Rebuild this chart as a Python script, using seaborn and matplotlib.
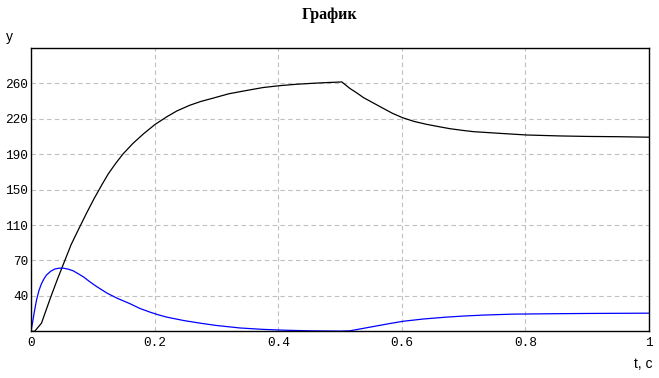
import matplotlib
matplotlib.use("Agg")
import matplotlib.pyplot as plt
import seaborn as sns
import pandas as pd
from matplotlib.ticker import FixedLocator, FixedFormatter

# ---- data ----
t_black = [0.0, 0.006, 0.017, 0.032, 0.043, 0.054, 0.065, 0.077, 0.090, 0.102,
           0.115, 0.125, 0.137, 0.149, 0.165, 0.182, 0.201, 0.220, 0.236, 0.257,
           0.275, 0.295, 0.320, 0.349, 0.375, 0.402, 0.430, 0.456, 0.480, 0.503,
           0.516, 0.527, 0.538, 0.555, 0.570, 0.585, 0.601, 0.620, 0.640, 0.660,
           0.678, 0.700, 0.716, 0.759, 0.802, 0.856, 0.900, 0.950, 1.000]
y_black = [0.0, 0.0, 8.6, 36.0, 55.0, 73.0, 91.0, 107.0, 124.0, 139.0,
           154.0, 165.0, 176.0, 186.0, 197.0, 207.0, 217.0, 225.0, 231.0, 237.0,
           241.0, 244.5, 249.0, 252.5, 255.5, 257.5, 259.0, 260.0, 260.8, 261.4,
           254.6, 250.0, 245.0, 239.0, 233.7, 228.5, 224.0, 220.0, 217.0, 214.5,
           212.4, 210.5, 209.3, 207.5, 205.8, 204.8, 204.3, 204.0, 203.5]

t_blue = [0.0, 0.003, 0.005, 0.009, 0.013, 0.017, 0.021, 0.025, 0.032, 0.039,
          0.046, 0.052, 0.060, 0.068, 0.076, 0.085, 0.095, 0.106, 0.123, 0.140,
          0.160, 0.176, 0.193, 0.206, 0.220, 0.247, 0.273, 0.300, 0.338, 0.376,
          0.408, 0.451, 0.500, 0.516, 0.532, 0.554, 0.581, 0.602, 0.635, 0.673,
          0.700, 0.732, 0.780, 0.840, 0.899, 1.000]
y_blue = [0.0, 11.0, 19.0, 33.0, 43.0, 50.0, 55.0, 59.0, 63.0, 65.4,
          66.2, 66.2, 65.2, 63.5, 60.5, 57.0, 52.0, 47.0, 40.0, 34.5,
          29.0, 24.0, 20.0, 17.3, 14.8, 11.3, 8.6, 6.1, 3.5, 2.0,
          1.2, 0.5, 0.2, 0.5, 2.4, 5.0, 8.2, 10.5, 12.9, 14.9,
          16.0, 17.0, 18.0, 18.4, 18.7, 19.0]

x_ticks = [0, 0.2, 0.4, 0.6, 0.8, 1.0]
x_tick_labels = ["0", "0.2", "0.4", "0.6", "0.8", "1"]
y_max = 297.0
y_tick_labels = ["40", "70", "110", "150", "190", "220", "260"]

title = "График"
x_label = "t, c"
y_label = "y"

# ---- styling ----
sns.set_theme(style="white")
plt.rcParams["font.family"] = ["Liberation Mono", "DejaVu Sans Mono"]
plt.rcParams["text.color"] = "black"

fig = plt.figure(figsize=(6.59, 3.78), dpi=100)
ax = fig.add_axes([31 / 659, (378 - 331.3) / 378, (649 - 31) / 659, (331.3 - 48) / 378])

df_black = pd.DataFrame({"t": t_black, "y": y_black})
df_blue = pd.DataFrame({"t": t_blue, "y": y_blue})
sns.lineplot(data=df_black, x="t", y="y", color="black", linewidth=0.9, ax=ax,
             sort=False, estimator=None)
sns.lineplot(data=df_blue, x="t", y="y", color="#0000ff", linewidth=0.9, ax=ax,
             sort=False, estimator=None)

ax.set_xlim(0, 1)
ax.set_ylim(0, y_max)

y_pos = [y_max / 8 * (i + 1) for i in range(len(y_tick_labels))]
ax.xaxis.set_major_locator(FixedLocator(x_ticks))
ax.xaxis.set_major_formatter(FixedFormatter(x_tick_labels))
ax.yaxis.set_major_locator(FixedLocator(y_pos))
ax.yaxis.set_major_formatter(FixedFormatter(y_tick_labels))

ax.tick_params(axis="both", length=0, labelsize=9.2, colors="black")
ax.tick_params(axis="x", pad=4)
ax.tick_params(axis="y", pad=2)

ax.grid(True, color="#c0c0c0", linestyle=(0, (4, 3)), linewidth=0.8)
for s in ax.spines.values():
    s.set_visible(True)
    s.set_color("black")
    s.set_linewidth(1.0)

ax.set_xlabel("")
ax.set_ylabel("")

fig.text(329.5 / 659, 1 - 15 / 378, title, ha="center", va="center",
         fontsize=11.5, fontweight="bold", family="Liberation Serif", color="black")
fig.text(9 / 659, 1 - 37 / 378, y_label, ha="center", va="center", fontsize=10,
         family="Liberation Sans", color="black")
fig.text(653 / 659, 1 - 364 / 378, x_label, ha="right", va="center", fontsize=10,
         family="Liberation Sans", color="black")

fig.savefig("out.png", dpi=100)
